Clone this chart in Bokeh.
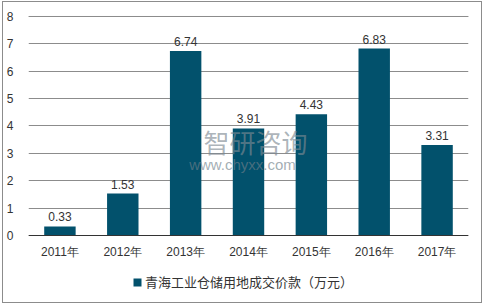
from bokeh.plotting import figure
from bokeh.models import (ColumnDataSource, Range1d, FactorRange, Legend, LegendItem,
                          Label, LabelSet, FixedTicker, Span)
from bokeh.core.properties import value
from bokeh.embed import file_html
from bokeh.resources import INLINE

years = ["2011年", "2012年", "2013年", "2014年", "2015年", "2016年", "2017年"]
values = [0.33, 1.53, 6.74, 3.91, 4.43, 6.83, 3.31]
value_labels = ["0.33", "1.53", "6.74", "3.91", "4.43", "6.83", "3.31"]
y_ticks = [0, 1, 2, 3, 4, 5, 6, 7, 8]
series_name = "青海工业仓储用地成交价款（万元）"

BAR = "#02516c"
GRID = "#8c8c8c"
FONT = "Liberation Sans"

src = ColumnDataSource(dict(x=years, y=values, lab=value_labels))

# frame: 0 -> canvas y 233, 8 -> canvas y 14 (27.375 px per unit)
p = figure(width=478, height=300, x_range=FactorRange(*years), y_range=Range1d(-2.375, 8.511),
           output_backend="svg", toolbar_location=None,
           min_border_left=25, min_border_right=13, min_border_top=0, min_border_bottom=2)
p.outline_line_color = None
p.background_fill_color = "white"
p.border_fill_color = "white"
p.margin = (2, 0, 0, 3)
p.styles = {"outline": "1.5px solid #8c8c8c"}

r = p.vbar(x="x", top="y", bottom=0, width=0.5, source=src, fill_color=BAR, line_color=None)

p.add_layout(LabelSet(x="x", y="y", text="lab", source=src, y_offset=5,
                      text_align="center", text_baseline="bottom",
                      text_font_size="12px", text_color="#333333", text_font=value(FONT)))

p.x_range.range_padding = 0
p.xgrid.grid_line_color = None
p.ygrid.grid_line_color = GRID
p.ygrid.grid_line_width = 1

p.yaxis.ticker = FixedTicker(ticks=y_ticks)
p.ygrid.ticker = FixedTicker(ticks=y_ticks)
p.yaxis.axis_line_color = None
p.yaxis.major_tick_line_color = None
p.yaxis.minor_tick_line_color = None
p.yaxis.major_label_standoff = 9
p.yaxis.major_label_text_font_size = "12px"
p.yaxis.major_label_text_color = "#333333"
p.yaxis.major_label_text_font = FONT

# top gridline (highest tick), in case the grid skips it
p.add_layout(Span(location=y_ticks[-1], dimension="width", line_color=GRID, line_width=1))

p.xaxis.fixed_location = 0
p.xaxis.axis_line_color = "#333333"
p.xaxis.axis_line_width = 1
p.xaxis.major_tick_line_color = None
p.xaxis.minor_tick_line_color = None
p.xaxis.major_label_standoff = 4
p.xaxis.major_label_text_font_size = "12px"
p.xaxis.major_label_text_color = "#333333"
p.xaxis.major_label_text_font = FONT

legend = Legend(items=[LegendItem(label=series_name, renderers=[r])],
                location=(104, 9), orientation="horizontal",
                border_line_color=None, background_fill_alpha=0,
                label_text_font_size="13px", label_text_color="#333333",
                label_text_font="Noto Sans CJK SC", glyph_width=10, glyph_height=10,
                label_standoff=3, padding=0, margin=0)
p.add_layout(legend, "center")

# watermark
p.add_layout(Label(x=227, y=159, x_units="screen", y_units="screen", text="智研咨询",
                   text_align="center", text_baseline="middle",
                   text_font_size="26px", text_color="#7d8a93", text_alpha=0.65,
                   text_font="Noto Sans CJK SC"))
p.add_layout(Label(x=214, y=136, x_units="screen", y_units="screen", text="www.chyxx.com",
                   text_align="center", text_baseline="middle",
                   text_font_size="15px", text_color="#6f7f8a", text_alpha=0.65,
                   text_font="Liberation Sans"))

open("out.html", "w").write(file_html(p, INLINE))
